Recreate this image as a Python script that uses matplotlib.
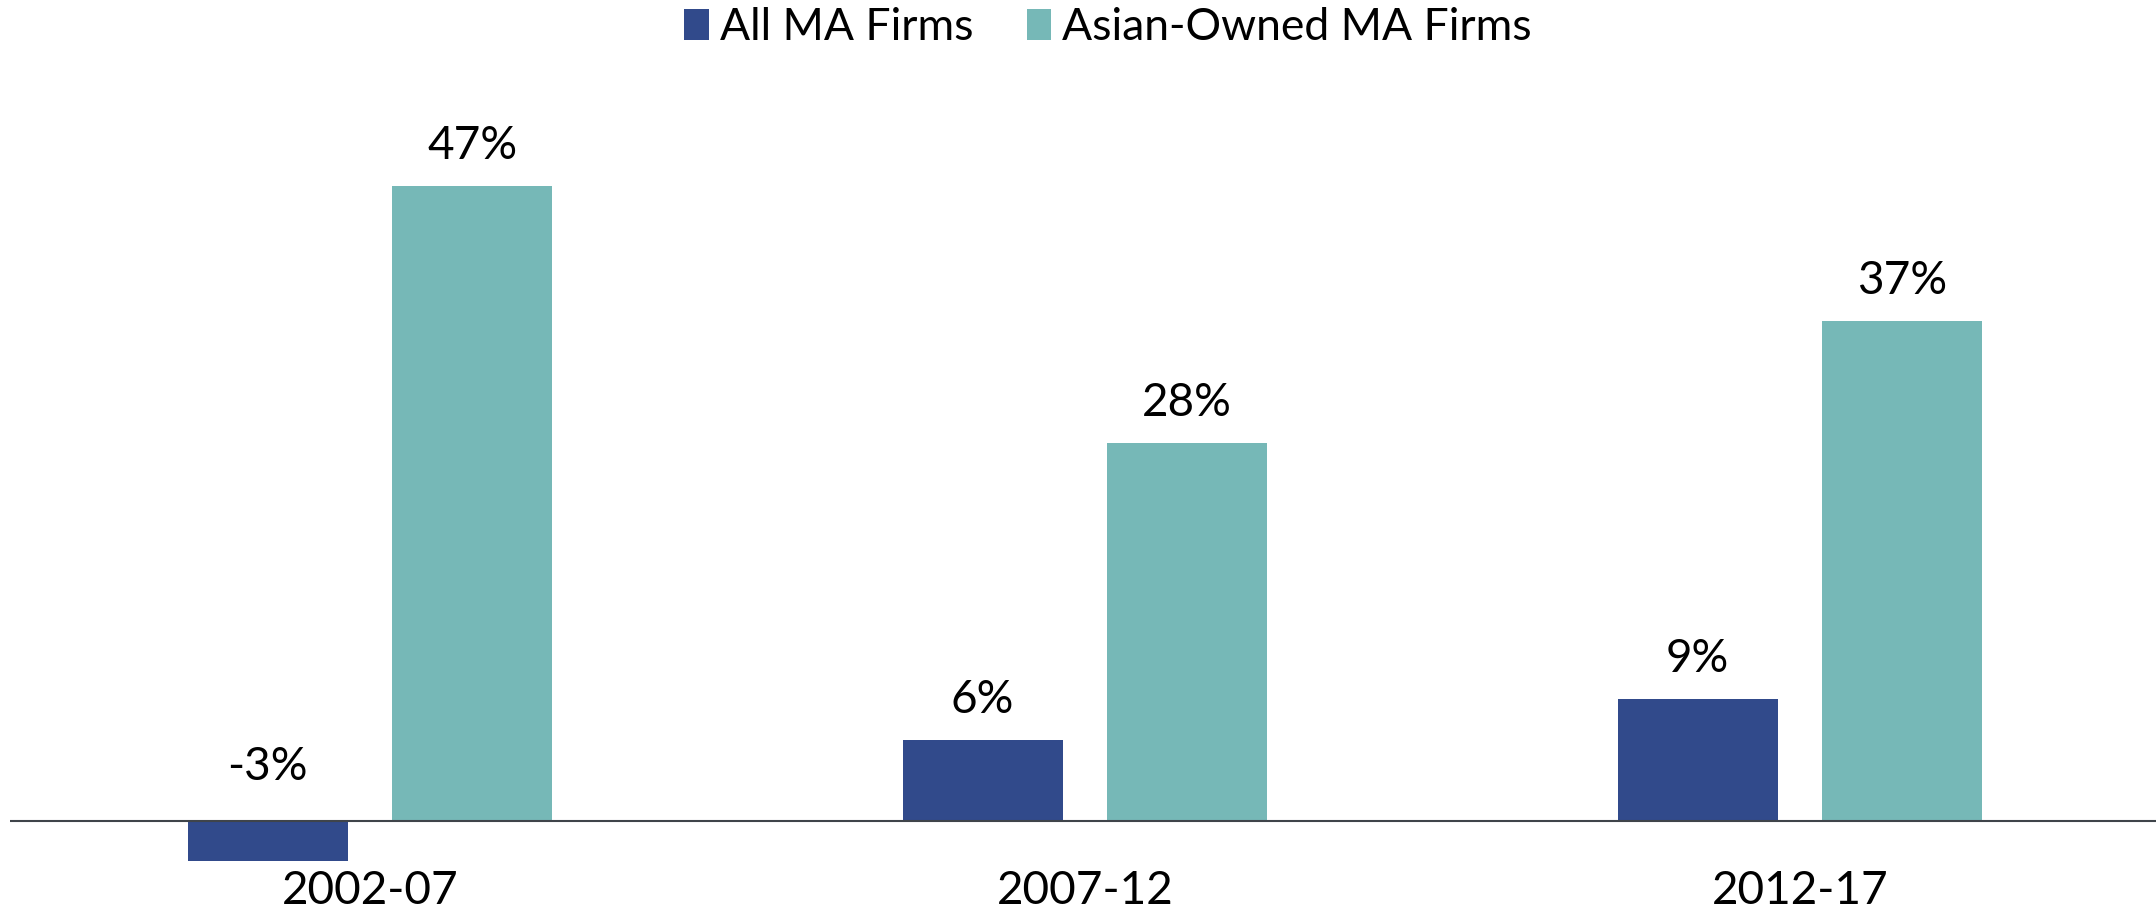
import matplotlib
matplotlib.use('Agg')
import matplotlib.pyplot as plt
import numpy as np

periods = ['2002-07', '2007-12', '2012-17']
all_firms = [-3, 6, 9]
asian_firms = [47, 28, 37]
series_names = ['All MA Firms', 'Asian-Owned MA Firms']

blue = '#314a8b'
teal = '#76b8b7'

plt.rcParams['font.family'] = ['Lato', 'DejaVu Sans']

fig = plt.figure(figsize=(21.56, 9.14), dpi=100)
ax = fig.add_axes([0.0046, 0.0486, 0.9954, 0.7917])

x = np.arange(len(periods))
w, off = 0.224, 0.143
b1 = ax.bar(x - off, all_firms, w, color=blue, label=series_names[0])
b2 = ax.bar(x + off, asian_firms, w, color=teal, label=series_names[1])

# value labels: negative ones sit above the zero line
for bars, vals in [(b1, all_firms), (b2, asian_firms)]:
    for rect, v in zip(bars, vals):
        gap = 14 if v >= 0 else 24
        ax.annotate('{:d}%'.format(v), (rect.get_x() + rect.get_width() / 2, max(v, 0)),
                    xytext=(0, gap), textcoords='offset points',
                    ha='center', va='bottom', fontsize=33)

ax.axhline(0, color='#3f444a', lw=1.5, zorder=3)

ax.set_xlim(-0.5035, 2.498)
ax.set_ylim(-3.6, 50)
ax.set_xticks(x)
ax.set_xticklabels(periods, fontsize=33)
ax.tick_params(axis='x', length=0, pad=0)
ax.set_yticks([])
for s in ax.spines.values():
    s.set_visible(False)

fig.legend(loc='center', bbox_to_anchor=(0.514, 0.970), ncol=2, frameon=False,
           fontsize=32, handlelength=0.55, handleheight=0.7, handletextpad=0.25,
           columnspacing=1.2)

fig.savefig('out.png', dpi=100)
